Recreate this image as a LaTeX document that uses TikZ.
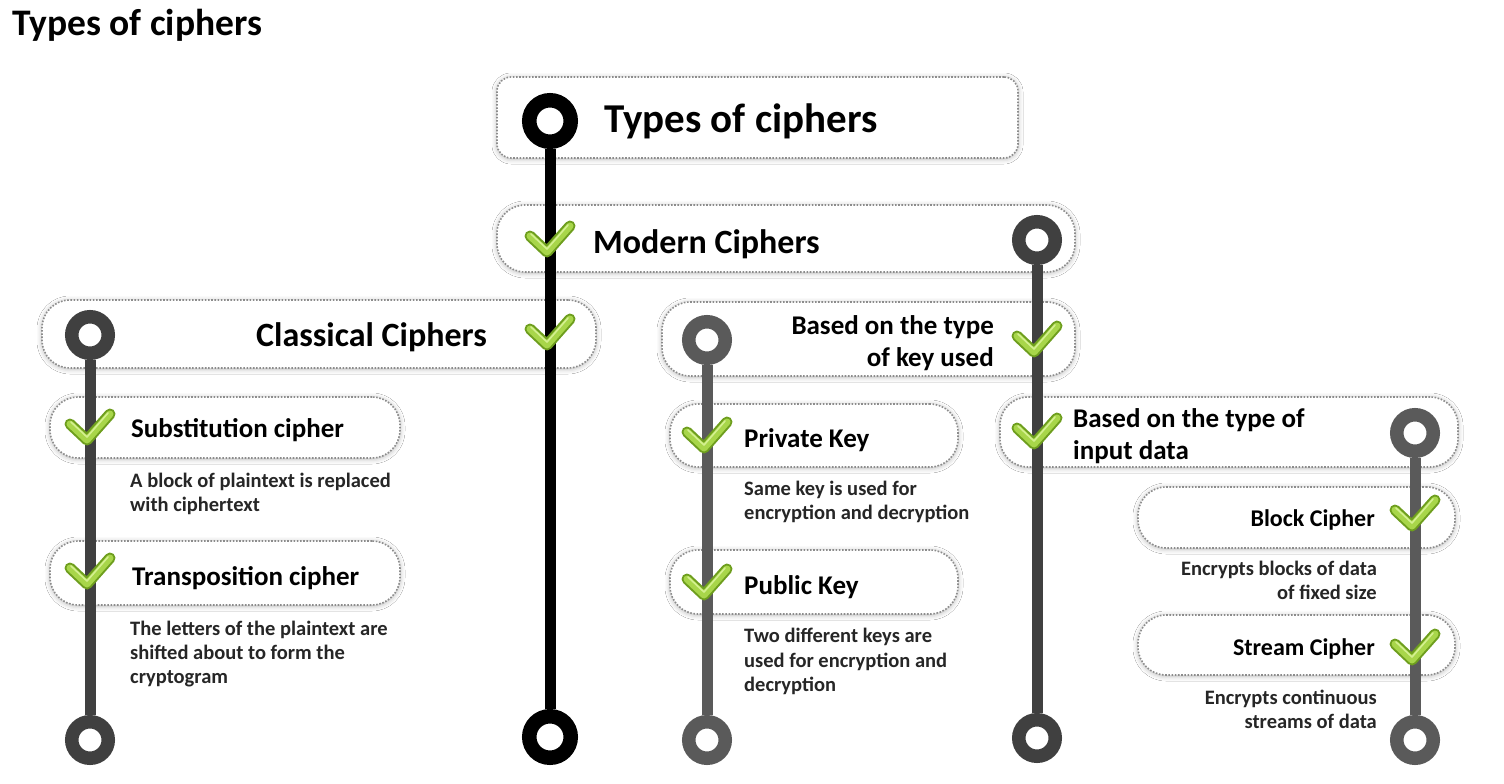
\documentclass[tikz,border=0pt]{standalone}
\usepackage{fontspec}
\setmainfont{Carlito}
\usetikzlibrary{shadows.blur}
\definecolor{dk}{HTML}{404040}
\definecolor{md}{HTML}{5A5A5A}
\definecolor{chkD}{HTML}{6E9E1E}
\definecolor{chkL}{HTML}{A8D64A}
\definecolor{chkH}{HTML}{D4F090}
\definecolor{dotc}{HTML}{8C8C8C}
\tikzset{
  box/.style={draw=dotc, dash pattern=on 1.6pt off 1.6pt, line width=1.6pt, fill=white,
    rounded corners=28pt, inner sep=0pt,
    blur shadow={shadow xshift=0pt, shadow yshift=-1pt, shadow blur radius=5pt, shadow opacity=30}},
  ring/.style={circle, draw=#1, line width=13.5pt, fill=white, minimum size=36.5pt, inner sep=0pt},
  bigring/.style={circle, draw=black, line width=14.5pt, fill=white, minimum size=41.5pt, inner sep=0pt},
  lbl/.style={font=\bfseries\fontsize{27}{32}\selectfont, inner sep=0pt},
  sml/.style={font=\bfseries\fontsize{24}{28}\selectfont, inner sep=0pt},
  desc/.style={font=\bfseries\fontsize{20.5}{24}\selectfont, text=black!85, inner sep=0pt},
  rail/.style={line width=11pt},
  chkmark/.pic={
    \draw[chkD, line width=11pt, line cap=round, line join=round] (-20,-4) -- (-3,12) -- (20,-14);
    \draw[chkL, line width=7pt, line cap=round, line join=round] (-20,-4) -- (-3,12) -- (20,-14);
    \draw[chkH, line width=1.6pt, line cap=round, line join=round] (-19,-6) -- (-3,9) -- (18,-15);
  }
}
\begin{document}
\begin{tikzpicture}[x=1pt,y=-1pt]
\useasboundingbox[fill=white] (0,0) rectangle (1504,784);

% title
\node[font=\bfseries\fontsize{37.5}{40}\selectfont, inner sep=0pt, anchor=base west] (title) at (12,36) {Types of ciphers};

% boxes
\node[box, rounded corners=14pt, minimum width=521pt, minimum height=81pt] (tbox) at (757.5,117.5) {};
\node[box, minimum width=578pt, minimum height=67pt] (mbox) at (786,238.5) {};
\node[box, minimum width=554pt, minimum height=68pt] (cbox) at (319,334) {};
\node[box, minimum width=350pt, minimum height=61pt] (sbox) at (225,427.5) {};
\node[box, minimum width=350pt, minimum height=64pt] (trbox) at (225,573) {};
\node[box, minimum width=413pt, minimum height=74pt] (kbox) at (868.5,339) {};
\node[box, minimum width=288pt, minimum height=63pt] (pvbox) at (814,435.5) {};
\node[box, minimum width=288pt, minimum height=64pt] (pubox) at (814,582) {};
\node[box, minimum width=458pt, minimum height=70pt] (ibox) at (1229,432) {};
\node[box, minimum width=317pt, minimum height=61pt] (bbox) at (1296.5,517.5) {};
\node[box, minimum width=317pt, minimum height=60pt] (stbox) at (1296.5,645) {};

% box labels
\node[font=\bfseries\fontsize{41}{44}\selectfont, inner sep=0pt, anchor=base west] (tlbl) at (604,132) {Types of ciphers};
\node[font=\bfseries\fontsize{34}{38}\selectfont, inner sep=0pt, anchor=base west] (mlbl) at (593,253) {Modern Ciphers};
\node[font=\bfseries\fontsize{34}{38}\selectfont, inner sep=0pt, anchor=base east] (clbl) at (487,346) {Classical Ciphers};
\node[lbl, anchor=base west] (slbl) at (131,437) {Substitution cipher};
\node[lbl, anchor=base west] (trlbl) at (132,585) {Transposition cipher};
\node[lbl, anchor=base east] (klbl1) at (994,334) {Based on the type};
\node[lbl, anchor=base east] (klbl2) at (994,366) {of key used};
\node[lbl, anchor=base west] (pvlbl) at (744,447) {Private Key};
\node[lbl, anchor=base west] (pulbl) at (744,594) {Public Key};
\node[lbl, anchor=base west] (ilbl1) at (1073,427) {Based on the type of};
\node[lbl, anchor=base west] (ilbl2) at (1073,459) {input data};
\node[sml, anchor=base east] (blbl) at (1375,526) {Block Cipher};
\node[sml, anchor=base east] (stlbl) at (1375,655) {Stream Cipher};

% descriptions
\node[desc, anchor=base west] (sd1) at (130,487) {A block of plaintext is replaced};
\node[desc, anchor=base west] (sd2) at (130,511) {with ciphertext};
\node[desc, anchor=base west] (td1) at (130,635) {The letters of the plaintext are};
\node[desc, anchor=base west] (td2) at (130,659) {shifted about to form the};
\node[desc, anchor=base west] (td3) at (130,683) {cryptogram};
\node[desc, anchor=base west] (pvd1) at (744,495) {Same key is used for};
\node[desc, anchor=base west] (pvd2) at (744,519) {encryption and decryption};
\node[desc, anchor=base west] (pud1) at (744,642) {Two different keys are};
\node[desc, anchor=base west] (pud2) at (744,667) {used for encryption and};
\node[desc, anchor=base west] (pud3) at (744,691) {decryption};
\node[desc, anchor=base east] (bd1) at (1377,575) {Encrypts blocks of data};
\node[desc, anchor=base east] (bd2) at (1377,599) {of fixed size};
\node[desc, anchor=base east] (std1) at (1377,704) {Encrypts continuous};
\node[desc, anchor=base east] (std2) at (1377,728) {streams of data};

% rings
\node[bigring] (r0t) at (550,121) {};
\node[bigring] (r0b) at (550,737) {};
\node[ring=dk] (rmt) at (1037,240) {};
\node[ring=dk] (rmb) at (1037,738) {};
\node[ring=dk] (rct) at (90,335) {};
\node[ring=dk] (rcb) at (90,740) {};
\node[ring=md] (rkt) at (707,340) {};
\node[ring=md] (rkb) at (707,740) {};
\node[ring=md] (rit) at (1415,433) {};
\node[ring=md] (rib) at (1415,740) {};

% rails
\draw[rail, black] (r0t) -- (r0b);
\draw[rail, dk] (rmt) -- (rmb);
\draw[rail, dk] (rct) -- (rcb);
\draw[rail, md] (rkt) -- (rkb);
\draw[rail, md] (rit) -- (rib);

% checkmarks
\pic at (550,240) {chkmark};
\pic at (550,333) {chkmark};
\pic at (90,428) {chkmark};
\pic at (90,572) {chkmark};
\pic at (1037,340) {chkmark};
\pic at (1037,432) {chkmark};
\pic at (707,436) {chkmark};
\pic at (707,583) {chkmark};
\pic at (1415,514) {chkmark};
\pic at (1415,648) {chkmark};
\end{tikzpicture}
\end{document}
